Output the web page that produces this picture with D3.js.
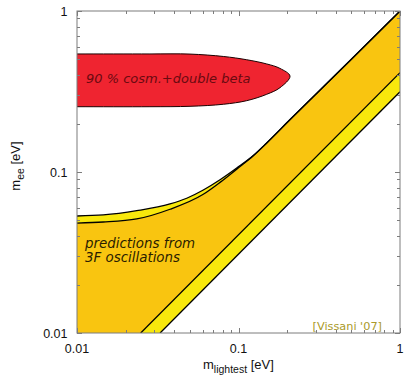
<!DOCTYPE html>
<html><head><meta charset="utf-8">
<script src="https://cdn.jsdelivr.net/npm/d3@7"></script>
<style>body{margin:0;background:#fff}svg{display:block}</style>
</head><body>
<svg id="c" width="405" height="377"></svg>
<script>
// ---- data ----
const xDomain = [0.01, 1];
const yDomain = [0.01, 1];
const xTickLabels = ["0.01", "0.1", "1"];
const yTickLabels = ["0.01", "0.1", "1"];
const xTickValues = [0.01, 0.1, 1];
const yTickValues = [0.01, 0.1, 1];

// upper boundary of 3F prediction band (outer = yellow, inner = orange)
const upperOuter = [[0.01,0.0533],[0.01455,0.0541],[0.02344,0.0575],[0.03766,0.0633],[0.04778,0.0687],
  [0.06053,0.0773],[0.07683,0.0895],[0.0975,0.1059],[0.1235,0.1266],[0.1495,0.1514],[0.208,0.211],[0.5,0.502],[1,1]];
const upperInner = [[0.01,0.0482],[0.01455,0.0489],[0.02344,0.0511],[0.03766,0.0587],[0.06053,0.0727],
  [0.07683,0.0862],[0.0975,0.1042],[0.1235,0.1262],[0.1495,0.1514],[0.208,0.211],[0.5,0.502],[1,1]];
// lower boundaries (straight in log-log)
const lowerInner = [[0.0248,0.01],[1,0.414]];
const lowerOuter = [[0.0327,0.01],[1,0.315]];

// excluded region: 90% cosmology + double beta
const excludedTop = [[0.006,0.541],[0.01,0.541],[0.0283,0.541],[0.0501,0.540],[0.0805,0.522],[0.1124,0.498],
  [0.1495,0.469],[0.1807,0.440],[0.2084,0.394]];
const excludedBottom = [[0.1807,0.334],[0.1495,0.3038],[0.1124,0.2773],[0.0805,0.2634],
  [0.0501,0.2559],[0.0283,0.2544],[0.01,0.2544],[0.006,0.2544]];

// ---- layout ----
const L = 77, R = 400, T = 11, B = 333;
const svg = d3.select("#c");
const x = d3.scaleLog().domain(xDomain).range([L, R]);
const y = d3.scaleLog().domain(yDomain).range([B, T]);

const C = {yellow:"#f8e80c", orange:"#f9c510", red:"#ef2430", frame:"#7c7c7c"};

svg.append("defs").append("clipPath").attr("id","clip")
  .append("rect").attr("x",L).attr("y",T).attr("width",R-L).attr("height",B-T);
const g = svg.append("g").attr("clip-path","url(#clip)");

const smooth = d3.line().x(d=>x(d[0])).y(d=>y(d[1])).curve(d3.curveMonotoneX);
const straight = d3.line().x(d=>x(d[0])).y(d=>y(d[1]));
const pt = d => x(d[0]) + "," + y(d[1]);

function band(upper, lower){
  return smooth(upper) + "L" + pt(lower[1]) + "L" + pt(lower[0]) +
         "L" + pt([xDomain[0], yDomain[0]]) + "Z";
}
g.append("path").attr("d", band(upperOuter, lowerOuter)).attr("fill", C.yellow);
g.append("path").attr("d", band(upperInner, lowerInner)).attr("fill", C.orange);

// boundary lines
[upperOuter, upperInner].forEach(a => g.append("path").attr("d", smooth(a))
  .attr("fill","none").attr("stroke","#000").attr("stroke-width",1.3));
[lowerInner, lowerOuter].forEach(a => g.append("path").attr("d", straight(a))
  .attr("fill","none").attr("stroke","#000").attr("stroke-width",1.3));

// excluded region
const blob = d3.line().x(d=>x(d[0])).y(d=>y(d[1])).curve(d3.curveCatmullRom.alpha(0.5));
g.append("path").attr("d", blob(excludedTop.concat(excludedBottom)) + "Z")
  .attr("fill", C.red).attr("stroke","#1a0000").attr("stroke-width",1);

// texts in plot
svg.append("text").attr("x",86).attr("y",83)
  .attr("font-family","DejaVu Sans").attr("font-style","italic").attr("font-size",13)
  .attr("fill","#6a0a10").text("90 % cosm.+double beta");
const pred = svg.append("text").attr("font-family","DejaVu Sans").attr("font-style","italic")
  .attr("font-size",13.4).attr("fill","#2b1d00");
pred.append("tspan").attr("x",85).attr("y",248).text("predictions from");
pred.append("tspan").attr("x",85).attr("y",262).text("3F oscillations");
svg.append("text").attr("x",382).attr("y",330).attr("text-anchor","end")
  .attr("font-family","DejaVu Sans").attr("font-size",11.3).attr("fill","#aa9a2a")
  .text("[Vissani '07]");

// frame
svg.append("rect").attr("x",L).attr("y",T).attr("width",R-L).attr("height",B-T)
  .attr("fill","none").attr("stroke",C.frame).attr("stroke-width",1);

// ticks (inward, all sides)
const tk = svg.append("g").attr("stroke",C.frame).attr("stroke-width",1);
const isMajor = v => Math.abs(Math.log10(v) - Math.round(Math.log10(v))) < 1e-6;
x.ticks().forEach(v => {
  const len = isMajor(v) ? 5 : 3, px = Math.round(x(v)) + 0.5;
  tk.append("line").attr("x1",px).attr("x2",px).attr("y1",B).attr("y2",B-len);
  tk.append("line").attr("x1",px).attr("x2",px).attr("y1",T).attr("y2",T+len);
});
y.ticks().forEach(v => {
  const len = isMajor(v) ? 5 : 3, py = Math.round(y(v)) + 0.5;
  tk.append("line").attr("y1",py).attr("y2",py).attr("x1",L).attr("x2",L+len);
  tk.append("line").attr("y1",py).attr("y2",py).attr("x1",R).attr("x2",R-len);
});

// tick labels
const font = "Liberation Sans, Arial, sans-serif";
xTickValues.forEach((v,i) => svg.append("text").attr("x",x(v)).attr("y",352.5)
  .attr("text-anchor","middle").attr("font-family",font).attr("font-size",12.5).attr("fill","#111")
  .text(xTickLabels[i]));
yTickValues.forEach((v,i) => svg.append("text").attr("x",67.5).attr("y",y(v)+4.5)
  .attr("text-anchor","end").attr("font-family",font).attr("font-size",12.5).attr("fill","#111")
  .text(yTickLabels[i]));

// axis titles
const xt = svg.append("text").attr("x",203).attr("y",368.5).attr("font-family",font)
  .attr("font-size",13).attr("fill","#111");
xt.append("tspan").text("m");
xt.append("tspan").attr("font-size",10.5).attr("dy",4).text("lightest");
xt.append("tspan").attr("dy",-4).text(" [eV]");

const yt = svg.append("text").attr("transform","translate(19.5,166) rotate(-90)")
  .attr("text-anchor","middle").attr("font-family",font).attr("font-size",13).attr("fill","#111");
yt.append("tspan").text("m");
yt.append("tspan").attr("font-size",10.5).attr("dy",4).text("ee");
yt.append("tspan").attr("dy",-4).text(" [eV]");
</script>
</body></html>
